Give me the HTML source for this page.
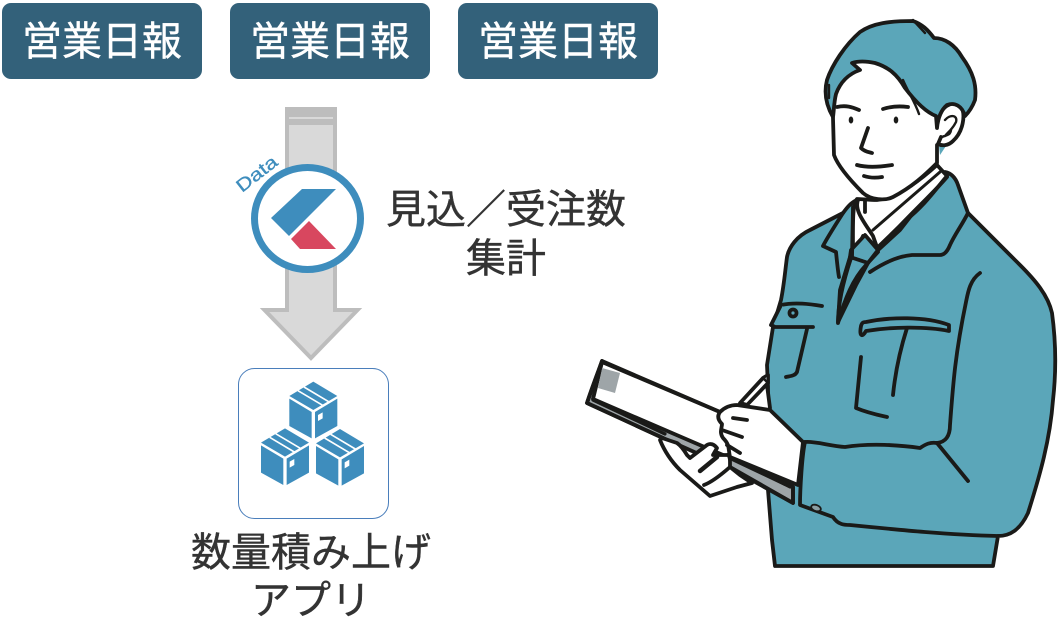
<!DOCTYPE html>
<html lang="ja">
<head>
<meta charset="utf-8">
<style>
html,body{margin:0;padding:0;background:#fff;}
#p{position:relative;width:1060px;height:622px;overflow:hidden;background:#fff;font-family:"Liberation Sans","Noto Sans CJK JP",sans-serif;}
.b{position:absolute;top:3px;width:200px;height:76px;background:#33617a;border-radius:9px;color:#fff;font-size:40px;line-height:78px;text-align:center;-webkit-text-stroke:.4px #fff;}
.t{position:absolute;color:#333;font-size:40px;line-height:48px;text-align:center;white-space:nowrap;-webkit-text-stroke:.4px #333;}
svg{position:absolute;left:0;top:0;}
</style>
</head>
<body>
<div id="p">
<svg width="1060" height="622" viewBox="0 0 1060 622">
<defs>
<g id="c">
<path d="M250 65L322 108 250 150 178 108Z" fill="#3e8dbd"/>
<path d="M204 92L278 136M222 81L296 125" stroke="#fff" stroke-width="5"/>
<path d="M178 116L245 156V235L178 198Z" fill="#3e8dbd"/>
<path d="M255 156L322 116V198L255 235Z" fill="#3e8dbd"/>
<path d="M264 165L278 157V175L264 183Z" fill="#fff"/>
</g>
</defs>
<!-- arrow -->
<path d="M287 109H335V310H357.500L311 358 264.500 310H287Z" fill="#d9d9d9" stroke="#bdbdbd" stroke-width="4"/>
<rect x="285" y="107" width="52" height="18" fill="#bdbdbd"/>
<rect x="289" y="117" width="44" height="2" fill="#d9d9d9"/>
<!-- logo -->
<ellipse cx="307.500" cy="218.500" rx="53" ry="51" fill="#fff" stroke="#3e8dbd" stroke-width="7"/>
<path d="M302 189H336L289 236 271 218Z" fill="#3e8dbd"/>
<path d="M309 221L336 249H300L291 239Z" fill="#d8475f"/>
<text x="0" y="0" transform="translate(242 193) rotate(-38)" font-family="'Liberation Sans',sans-serif" font-size="18" textLength="47" lengthAdjust="spacingAndGlyphs" fill="#3e8dbd" stroke="#3e8dbd" stroke-width=".3">Data</text>
<!-- app box -->
<rect x="238.500" y="368.500" width="150" height="150" rx="16" fill="#fff" stroke="#4a7ebb" stroke-width="1"/>
<g transform="translate(230 360) scale(.3333)">
<use href="#c"/>
<use href="#c" x="-85" y="140"/>
<use href="#c" x="80" y="142"/>
</g>
<!-- person -->
<g stroke="#1a1a18" stroke-width="3.800" stroke-linecap="round" stroke-linejoin="round" fill="none">
<!-- jacket -->
<path fill="#5ba6b9" d="M857 200C850 203 846 209 843 213L810 230C797 236 789 247 787 257 785 272 784 285 781 300L773 327 767 365 768 387 768 490 772 540 775 566H993L998 536C1010 536 1020 530 1028 513 1040 475 1050 440 1053 400 1057 365 1055 335 1052 313 1048 295 1035 280 1020 265L968 213 958 185C955 176 950 173 945 172L900 230 865 262 857 240Z"/>
<!-- shirt -->
<path fill="#fff" d="M857 199C852 205 853 225 853 258L863 236 876 249 906 220C925 205 935 190 947 176L937 165C915 185 895 198 877 200 868 200 862 199 857 199Z"/>
<!-- tie -->
<path fill="#5ba6b9" d="M865 235L851 250 850 257 868 263 878 250Z"/>
<path fill="#5ba6b9" d="M850 257L840 290 838 322 856 285 868 263Z"/>
<path d="M858 200C854 210 864 222 873 236L878 250M865 201V212M853 207L852 258"/>
<path d="M873 230L903 204 940 172" stroke-width="3"/>
<path d="M878 252L866 265C853 279 845 298 838 323M838 323C838 305 842 285 851 258"/>
<path d="M947 177C930 197 905 218 878 250"/>
<!-- collar lines -->
<path d="M843 213C836 224 827 238 823 246L836 252C837 262 838 272 839 277"/>
<path d="M870 272C885 262 900 256 912 255L940 255C945 255 948 250 950 245 955 234 962 225 968 213"/>
<!-- face -->
<path fill="#fff" stroke="none" d="M835 97L833 120 835 157 863 193 877 200 893 197 937 165 937 120 900 80 855 63Z"/>
<path d="M833 118L834 155C838 166 850 180 863 193 871 200 885 201 893 197 912 187 925 175 937 163L937 145"/>
<!-- teal neck bit -->
<path fill="#5ba6b9" stroke="none" d="M939 146L946 146 940 155Z"/>
<!-- ear -->
<path fill="#fff" d="M940 113C945 105 955 100 961 106 966 115 963 132 953 141 948 146 942 146 938 144L941 137"/>
<path d="M945 120C950 114 958 115 956 122 952 130 948 132 945 136M942 137C946 135 950 136 951 130" stroke-width="2.400"/>
<!-- hair -->
<path fill="#5ba6b9" d="M833 117C826 105 824 92 827 80 832 65 845 45 860 32 873 23 890 21 913 21 922 24 928 30 934 38 945 38 955 45 962 57 973 72 977 85 975 100 972 108 968 113 965 116 962 106 955 102 947 105 941 110 938 118 937 128L936 116C928 113 918 105 905 88 897 74 888 67 875 63 866 61 858 61 852 63L860 70C848 74 840 83 836 94 834 102 834 110 833 117Z"/>
<path d="M903 80C908 92 915 102 919 114M913 20L925 33M829 85L829 98" stroke-width="2.400"/>
<!-- features -->
<path d="M837 107C846 105 852 107 859 110M883 109C892 106 900 106 908 107"/>
<ellipse cx="851" cy="120" rx="2.300" ry="3.500" fill="#1a1a18" stroke="none"/>
<ellipse cx="896" cy="120" rx="2.300" ry="3.500" fill="#1a1a18" stroke="none"/>
<path d="M868 128L861 148C865 152 869 152 872 153"/>
<path d="M857 165C868 168 880 167 892 165M864 176C870 178 876 178 882 177"/>
<!-- left pocket / arm -->
<path d="M781 305C795 302 810 304 822 306"/>
<path fill="#5ba6b9" d="M781 305L771 325 775 327 813 327"/>
<circle cx="793" cy="313" r="3.500"/>
<path d="M807 329L797 372C795 376 790 376 786 377"/>
<!-- chest pocket -->
<path d="M866 322C890 317 925 316 949 325L949 331C925 326 890 327 866 331 862 338 859 336 861 326 862 322 864 322 866 322Z"/>
<path d="M907 328C900 350 895 375 893 395"/>
<path d="M861 357L856 408C868 413 878 415 887 417"/>
<!-- sleeve seam -->
<path d="M980 273C970 280 968 292 966 302 955 355 953 385 950 425 950 437 945 442 937 443"/>
<!-- cuff -->
<path d="M937 443L968 481M805 442C802 455 800 490 800 505L833 517C838 525 845 525 850 525 900 530 950 535 998 536"/>
<path d="M805 442C815 441 830 446 845 447 870 443 900 445 920 448 926 444 930 442 937 443"/>
<ellipse cx="816" cy="508" rx="5" ry="3" fill="#8a9ea3" stroke-width="1.800" transform="rotate(20 816 508)"/>
<!-- white gap + pen -->
<path fill="#fff" stroke="none" d="M748 407L767 383 770 409Z"/>
<path d="M767 385L770 408"/>
<path fill="#fff" d="M740 403L763 378 768 375 768 383 747 405Z"/>
<path d="M763 378L768 375 768 383Z" fill="#8b9497" stroke-width="2.400"/>
<!-- clipboard back -->
<path fill="#9ea5a8" d="M602 361L587 403 663 438 730 468 793 503 793 487 720 440Z"/>
<!-- clipboard paper -->
<path fill="#fff" d="M602 362L720 412 785 484 730 458 593 399Z"/>
<path d="M602 361L720 412M602 361C597 375 591 390 587 403L663 438M730 467L793 503 793 487"/>
<path d="M593 400L665 434M730 457L790 487" stroke-width="3.200"/>
<path fill="#9ea5a8" stroke-width="0" d="M602 368L620 373 615 393 598 388Z"/>
<path d="M602 362L596 386" stroke-width="3.200"/>
<!-- right hand -->
<path fill="#fff" d="M720 412C725 407 730 405 737 405L770 410 803 442 798 485 730 457C728 448 730 445 723 438 719 432 722 428 722 424 718 420 717 416 720 412Z"/>
<path d="M733 418L747 420M722 430L742 437M727 445L740 453" stroke-width="3.800"/>
<!-- left hand -->
<path fill="#fff" d="M660 440C666 455 675 465 680 470L710 496 737 487 752 483 740 475 730 467 730 462C730 456 728 454 727 455L713 455 717 448C714 444 710 443 707 445L690 458 687 455C684 450 680 445 677 443L662 438Z"/>
<path d="M700 471L717 457" stroke-width="4.500"/>
<path d="M704 485C712 482 722 474 730 467"/>
</g>
</svg>
<div class="b" style="left:2px">営業日報</div>
<div class="b" style="left:230px">営業日報</div>
<div class="b" style="left:458px">営業日報</div>
<div class="t" style="left:356px;top:186px;width:300px;line-height:49px">見込／受注数<br>集計</div>
<div class="t" style="left:161px;top:529px;width:300px;">数量積み上げ<br>アプリ</div>
</div>
</body>
</html>
